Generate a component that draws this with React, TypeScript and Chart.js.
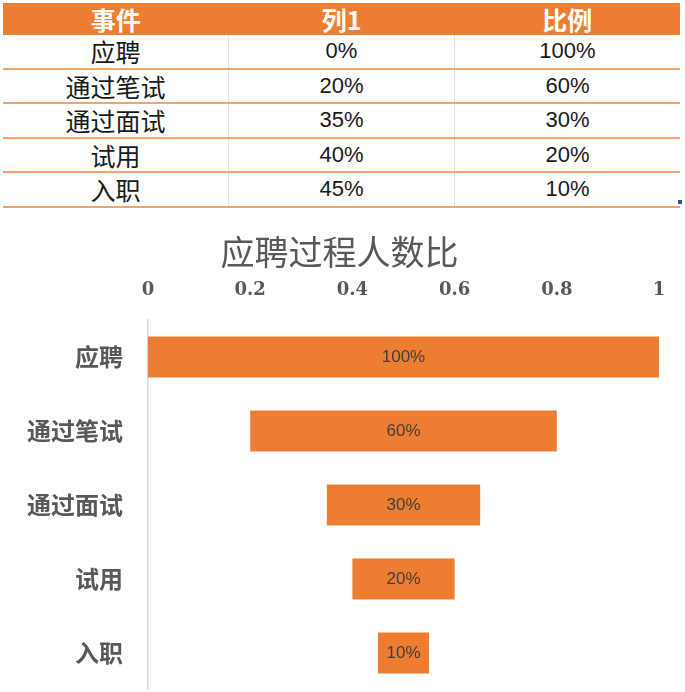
import React, { useEffect, useRef } from "react";
import { Chart, registerables } from "chart.js";

Chart.register(...registerables);

const tableHeaders = ["事件", "列1", "比例"];
const categories = ["应聘", "通过笔试", "通过面试", "试用", "入职"];
const offsetValues = [0, 0.2, 0.35, 0.4, 0.45]; // 列1
const ratioValues = [1, 0.6, 0.3, 0.2, 0.1]; // 比例
const xTicks = [0, 0.2, 0.4, 0.6, 0.8, 1];
const chartTitle = "应聘过程人数比";

const ORANGE = "#ED7D31";
const ROW_LINE = "#F3A46C";
const GRAY = "#595959";
const CJK = '"Noto Sans CJK SC", "Noto Sans", sans-serif';
const CANVAS_W = 685;
const CANVAS_H = 477;

const pct = (v: number) => `${Math.round(v * 100)}%`;

function DataTable() {
  const rowH = 34.5;
  const headerH = 32;
  const cellBase: React.CSSProperties = {
    flex: 1,
    display: "flex",
    alignItems: "center",
    justifyContent: "center",
    boxSizing: "border-box",
  };
  return (
    <div style={{ position: "absolute", left: 3, top: 3, width: 677 }}>
      <div
        style={{
          height: headerH,
          background: ORANGE,
          display: "flex",
          color: "#FFFFFF",
          fontFamily: CJK,
          fontWeight: 700,
          fontSize: 25,
        }}
      >
        {tableHeaders.map((h) => (
          <div key={h} style={cellBase}>
            {h}
          </div>
        ))}
      </div>
      {categories.map((c, i) => (
        <div
          key={c}
          style={{
            height: rowH,
            display: "flex",
            borderBottom: `2px solid ${ROW_LINE}`,
            boxSizing: "border-box",
            color: "#1a1a1a",
          }}
        >
          <div style={{ ...cellBase, fontFamily: CJK, fontSize: 25 }}>{c}</div>
          <div
            style={{
              ...cellBase,
              borderLeft: "1px solid #E3E3E3",
              fontFamily: '"Liberation Sans Narrow", "Liberation Sans", sans-serif',
              fontSize: 22,
            }}
          >
            {pct(offsetValues[i])}
          </div>
          <div
            style={{
              ...cellBase,
              borderLeft: "1px solid #E3E3E3",
              fontFamily: '"Liberation Sans Narrow", "Liberation Sans", sans-serif',
              fontSize: 22,
            }}
          >
            {pct(ratioValues[i])}
          </div>
        </div>
      ))}
      <div
        style={{
          position: "absolute",
          right: -2,
          bottom: 4,
          width: 4,
          height: 4,
          background: "#2F5597",
        }}
      />
    </div>
  );
}

const barLabelPlugin = {
  id: "barLabels",
  afterDatasetsDraw(chart: any) {
    const meta = chart.getDatasetMeta(1);
    const ctx = chart.ctx;
    ctx.save();
    ctx.font = '17px "Liberation Sans Narrow", "Liberation Sans", sans-serif';
    ctx.fillStyle = "#404040";
    ctx.textAlign = "center";
    ctx.textBaseline = "middle";
    meta.data.forEach((el: any, i: number) => {
      const p = el.getCenterPoint();
      ctx.fillText(pct(ratioValues[i]), p.x, p.y);
    });
    ctx.restore();
  },
};

function FunnelChart() {
  const ref = useRef<HTMLCanvasElement | null>(null);
  useEffect(() => {
    if (!ref.current) return;
    const chart = new Chart(ref.current, {
      type: "bar",
      data: {
        labels: categories,
        datasets: [
          {
            label: "列1",
            data: offsetValues,
            backgroundColor: "rgba(0,0,0,0)",
            borderWidth: 0,
            categoryPercentage: 1,
            barPercentage: 0.555,
          },
          {
            label: "比例",
            data: ratioValues,
            backgroundColor: ORANGE,
            borderWidth: 0,
            categoryPercentage: 1,
            barPercentage: 0.555,
          },
        ],
      },
      options: {
        indexAxis: "y",
        animation: false,
        responsive: false,
        maintainAspectRatio: false,
        devicePixelRatio: 1,
        layout: { padding: { left: 0, right: 6, top: 0, bottom: 2 } },
        plugins: {
          legend: { display: false },
          tooltip: { enabled: false },
          title: {
            display: true,
            text: chartTitle,
            color: GRAY,
            font: { family: CJK, size: 34, weight: "normal" },
            padding: { top: 16.6, bottom: 0 },
          },
        },
        scales: {
          x: {
            position: "top",
            stacked: true,
            min: 0,
            max: 1,
            afterBuildTicks: (s: any) => {
              s.ticks = xTicks.map((v) => ({ value: v }));
            },
            afterFit: (s: any) => {
              s.height = 47.6;
              s.paddingRight = 26;
            },
            grid: { display: false, drawTicks: true, tickLength: 19 },
            border: { display: false },
            ticks: {
              color: GRAY,
              padding: 0,
              maxRotation: 0,
              font: { family: '"DejaVu Serif", serif', size: 18, weight: "bold" },
              callback: (v: any) => String(Number(Number(v).toFixed(1))),
            },
          },
          y: {
            stacked: true,
            afterFit: (s: any) => {
              s.width = 148;
              s.paddingTop = 0;
              s.paddingBottom = 0;
            },
            grid: { display: false, drawTicks: true, tickLength: 25 },
            border: { display: true, color: "#D9D9D9", width: 1.5 },
            ticks: {
              color: GRAY,
              padding: 0,
              font: { family: CJK, size: 24, weight: "bold" },
            },
          },
        },
      },
      plugins: [barLabelPlugin],
    });
    return () => chart.destroy();
  }, []);
  return (
    <div style={{ position: "absolute", left: 0, top: 215, width: CANVAS_W, height: CANVAS_H }}>
      <canvas
        ref={ref}
        width={CANVAS_W}
        height={CANVAS_H}
        style={{ display: "block", width: CANVAS_W, height: CANVAS_H }}
      />
    </div>
  );
}

export default function App() {
  return (
    <div
      style={{
        position: "absolute",
        left: 0,
        top: 0,
        width: 685,
        height: 692,
        background: "#FFFFFF",
        overflow: "hidden",
      }}
    >
      <DataTable />
      <FunnelChart />
    </div>
  );
}
